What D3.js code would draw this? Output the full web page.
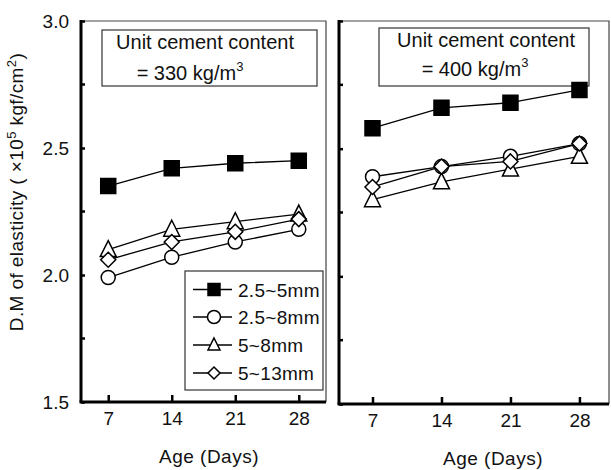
<!DOCTYPE html>
<html>
<head>
<meta charset="utf-8">
<script src="https://cdn.jsdelivr.net/npm/d3@7"></script>
<style>
  html, body { margin: 0; padding: 0; background: #fff; }
  svg { display: block; }
  text { font-family: "Liberation Sans", Arial, sans-serif; fill: #111; }
</style>
</head>
<body>
<svg id="chart" width="611" height="470"></svg>
<script>
// Curing age (days) and tick labels
const ages = [7, 14, 21, 28];
const yTicks = [1.5, 2.0, 2.5, 3.0];
const yMinor = [1.75, 2.25, 2.75];

// Aggregate size groups (legend order)
const groups = ["2.5~5mm", "2.5~8mm", "5~8mm", "5~13mm"];
const symbols = ["square", "circle", "triangle", "diamond"];

// Dynamic modulus of elasticity (x10^5 kgf/cm^2), cement content 330 kg/m3
const c330_25_5 = [2.35, 2.42, 2.44, 2.45];
const c330_25_8 = [1.99, 2.07, 2.13, 2.18];
const c330_5_8 = [2.10, 2.18, 2.21, 2.24];
const c330_5_13 = [2.06, 2.13, 2.17, 2.22];

// Dynamic modulus of elasticity (x10^5 kgf/cm^2), cement content 400 kg/m3
const c400_25_5 = [2.58, 2.66, 2.68, 2.73];
const c400_25_8 = [2.39, 2.43, 2.47, 2.52];
const c400_5_8 = [2.30, 2.37, 2.42, 2.47];
const c400_5_13 = [2.35, 2.43, 2.45, 2.52];

const panelsData = [
  { cement: "330", series: [c330_25_5, c330_25_8, c330_5_8, c330_5_13] },
  { cement: "400", series: [c400_25_5, c400_25_8, c400_5_8, c400_5_13] }
];

const svg = d3.select("#chart");

// Marker path generator, centred at 0,0
function markerPath(type, s) {
  const h = s / 2;
  switch (type) {
    case "square": return `M${-h},${-h}H${h}V${h}H${-h}Z`;
    case "circle": return d3.symbol(d3.symbolCircle, Math.PI * h * h)();
    case "triangle": return `M0,${-h - 1}L${h},${h - 1}L${-h},${h - 1}Z`;
    case "diamond": return `M0,${-h}L${h},0L0,${h}L${-h},0Z`;
  }
}
const markerSize = { square: 15, circle: 14, triangle: 16, diamond: 15 };

const layouts = [
  { x0: 81, x1: 326, y0: 402, y1: 21, dom: [4, 31],
    box: [102, 30, 317, 86], boxText: [205, 49, 190, 80],
    xlabel: [209, 463], tickY: 438 },
  { x0: 339, x1: 609, y0: 404, y1: 21, dom: [3.6, 31],
    box: [379, 28, 589, 86], boxText: [486, 47, 475, 76],
    xlabel: [493, 465], tickY: 440 }
];

layouts.forEach((L, pi) => {
  const P = panelsData[pi];
  const x = d3.scaleLinear().domain(L.dom).range([L.x0, L.x1]);
  const y = d3.scaleLinear().domain([1.5, 3.0]).range([L.y0, L.y1]);
  const g = svg.append("g");

  // thin top and right frame lines
  g.append("path")
    .attr("d", `M${L.x0},${L.y1}H${L.x1}V${L.y0}`)
    .attr("fill", "none").attr("stroke", "#444").attr("stroke-width", 1.2);

  // x axis (ticks pointing inward)
  const xAxis = d3.axisBottom(x).tickValues(ages).tickSize(-7).tickSizeOuter(0).tickFormat(d3.format("d"));
  const gx = g.append("g").attr("transform", `translate(0,${L.y0})`).call(xAxis);
  gx.select(".domain").attr("stroke", "#000").attr("stroke-width", 3)
    .attr("d", `M${L.x0 - 1.5},0H${L.x1}`);
  gx.selectAll(".tick line").attr("stroke", "#000").attr("stroke-width", 2.5);
  gx.selectAll(".tick text").attr("y", L.tickY - L.y0 - 13).attr("dy", "0")
    .attr("dominant-baseline", "auto")
    .style("font-size", "19px").style("font-family", "Liberation Sans, Arial, sans-serif")
    .attr("fill", "#111");

  // y axis (ticks pointing inward)
  const yAxis = d3.axisLeft(y).tickValues(yTicks).tickSize(-4).tickSizeOuter(0)
    .tickFormat(pi === 0 ? d3.format(".1f") : () => "");
  const gy = g.append("g").attr("transform", `translate(${L.x0},0)`).call(yAxis);
  gy.select(".domain").attr("stroke", "#000").attr("stroke-width", 3)
    .attr("d", `M0,${L.y1 - 1}V${L.y0}`);
  gy.selectAll(".tick line").attr("stroke", "#000").attr("stroke-width", 2.5);
  gy.selectAll(".tick text").attr("x", -12).attr("dy", "0.36em")
    .style("font-size", "19px").style("font-family", "Liberation Sans, Arial, sans-serif")
    .attr("fill", "#111");
  g.append("g").selectAll("line").data(yMinor).join("line")
    .attr("x1", L.x0).attr("x2", L.x0 + 4)
    .attr("y1", d => y(d)).attr("y2", d => y(d))
    .attr("stroke", "#000").attr("stroke-width", 2.5);

  // annotation box
  const [bx0, by0, bx1, by1] = L.box;
  g.append("rect").attr("x", bx0).attr("y", by0)
    .attr("width", bx1 - bx0).attr("height", by1 - by0)
    .attr("fill", "#fff").attr("stroke", "#333").attr("stroke-width", 1.2);
  g.append("text").attr("x", L.boxText[0]).attr("y", L.boxText[1])
    .attr("text-anchor", "middle").style("font-size", "20px")
    .text("Unit cement content");
  const t2 = g.append("text").attr("x", L.boxText[2]).attr("y", L.boxText[3])
    .attr("text-anchor", "middle").style("font-size", "20px");
  t2.append("tspan").text(`= ${P.cement} kg/m`);
  t2.append("tspan").attr("dy", -9).style("font-size", "13px").text("3");

  // x axis title
  g.append("text").attr("x", L.xlabel[0]).attr("y", L.xlabel[1])
    .attr("text-anchor", "middle").style("font-size", "19px").style("letter-spacing", "0.5px")
    .text("Age (Days)");

  // series lines then markers
  const line = d3.line().x((d, i) => x(ages[i])).y(d => y(d));
  P.series.forEach((vals) => {
    g.append("path").attr("d", line(vals)).attr("fill", "none")
      .attr("stroke", "#000").attr("stroke-width", 1.3);
  });
  P.series.forEach((vals, si) => {
    const type = symbols[si];
    g.append("g").selectAll("path").data(vals).join("path")
      .attr("transform", (d, i) => `translate(${x(ages[i])},${y(d)})`)
      .attr("d", markerPath(type, markerSize[type]))
      .attr("fill", type === "square" ? "#000" : "#fff")
      .attr("stroke", "#000").attr("stroke-width", 1.5);
  });
});

// legend (inside the left panel)
const leg = svg.append("g");
leg.append("rect").attr("x", 185).attr("y", 271).attr("width", 138).attr("height", 119)
  .attr("fill", "#fff").attr("stroke", "#333").attr("stroke-width", 1.2);
const legRowY = [289.5, 317, 345, 373];
const legSize = { square: 12, circle: 13, triangle: 12, diamond: 12 };
groups.forEach((name, i) => {
  const ly = legRowY[i];
  leg.append("line").attr("x1", 193).attr("x2", 232).attr("y1", ly).attr("y2", ly)
    .attr("stroke", "#000").attr("stroke-width", 1.3);
  const type = symbols[i];
  leg.append("path").attr("transform", `translate(214,${ly})`)
    .attr("d", markerPath(type, legSize[type]))
    .attr("fill", type === "square" ? "#000" : "#fff")
    .attr("stroke", "#000").attr("stroke-width", 1.5);
  leg.append("text").attr("x", 238).attr("y", ly + 7)
    .style("font-size", "19px").style("letter-spacing", "0.3px").text(name);
});

// y axis title
const yt = svg.append("text")
  .attr("transform", "translate(23,192) rotate(-90)")
  .attr("text-anchor", "middle").style("font-size", "19px").style("letter-spacing", "0.4px");
yt.append("tspan").text("D.M of elasticity ( ×10");
yt.append("tspan").attr("dy", -7).style("font-size", "13px").text("5");
yt.append("tspan").attr("dy", 7).text(" kgf/cm");
yt.append("tspan").attr("dy", -7).style("font-size", "13px").text("2");
yt.append("tspan").attr("dy", 7).text(")");
</script>
</body>
</html>
